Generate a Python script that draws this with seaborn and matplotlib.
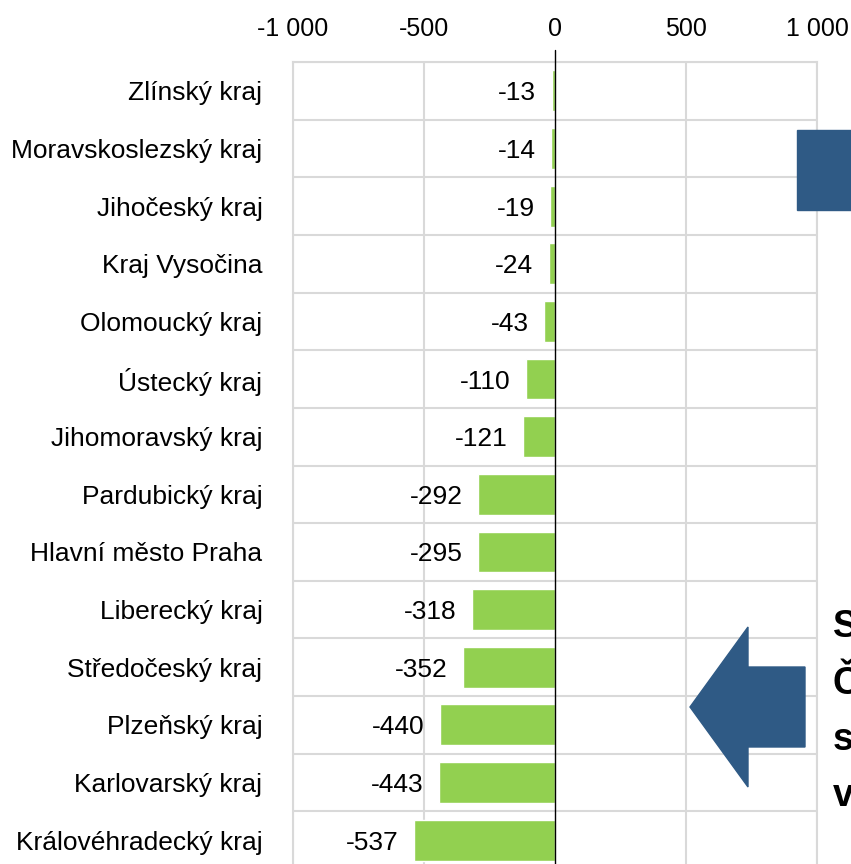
import numpy as np
import pandas as pd
import matplotlib
matplotlib.use("Agg")
import matplotlib.pyplot as plt
from matplotlib.ticker import FixedLocator, FuncFormatter
from matplotlib.patches import Polygon, Rectangle
import seaborn as sns

# data
regions = ["Zlínský kraj", "Moravskoslezský kraj", "Jihočeský kraj", "Kraj Vysočina",
           "Olomoucký kraj", "Ústecký kraj", "Jihomoravský kraj", "Pardubický kraj",
           "Hlavní město Praha", "Liberecký kraj", "Středočeský kraj", "Plzeňský kraj",
           "Karlovarský kraj", "Královéhradecký kraj"]
values = [-13, -14, -19, -24, -43, -110, -121, -292, -295, -318, -352, -440, -443, -537]
x_ticks = [-1000, -500, 0, 500, 1000]

bar_color = "#92D050"
grid_color = "#D9D9D9"
shape_color = "#2F5A85"

sns.set_theme(style="white")
plt.rcParams["font.family"] = ["Liberation Sans", "DejaVu Sans"]

df = pd.DataFrame({"region": regions, "value": values})

W, H = 851, 864
fig = plt.figure(figsize=(W / 100, H / 100), dpi=100)
ax = fig.add_axes([293 / W, (H - 869) / H, (817 - 293) / W, (869 - 62) / H])

sns.barplot(data=df, x="value", y="region", orient="h", color=bar_color,
            width=0.71, saturation=1, ax=ax, zorder=2)

ax.set_xlim(-1000, 1000)
ax.set_ylim(len(regions) - 0.5, -0.5)
ax.xaxis.set_major_locator(FixedLocator(x_ticks))
ax.xaxis.set_major_formatter(FuncFormatter(lambda v, p: f"{int(v):,}".replace(",", " ")))
ax.xaxis.tick_top()
ax.tick_params(axis="x", length=0, pad=15, labelsize=18, colors="black")
ax.tick_params(axis="y", length=0, pad=22, labelsize=19, colors="black")
for lbl in ax.get_yticklabels():
    lbl.set_va("center_baseline")
ax.set_xlabel("")
ax.set_ylabel("")

# grid: vertical at the x ticks, horizontal between categories
for v in x_ticks:
    if v != 0:
        ax.axvline(v, color=grid_color, lw=1.5, zorder=0)
ax.set_yticks(np.arange(-0.5, len(regions), 1.0), minor=True)
ax.tick_params(axis="y", which="minor", length=0)
ax.grid(axis="y", which="minor", color=grid_color, lw=1.5, zorder=0)
ax.grid(axis="y", which="major", visible=False)
for s in ["left", "right", "top"]:
    ax.spines[s].set_color(grid_color)
    ax.spines[s].set_linewidth(1.5)
ax.spines["bottom"].set_visible(False)

# zero axis line with small tick above
ax.plot([0, 0], [len(regions) - 0.5, -0.5 - 0.2], color="black", lw=1.0,
        clip_on=False, zorder=3)

# value labels
for i, v in enumerate(values):
    ax.annotate(f"{v}", xy=(v, i), xytext=(-11, 0), textcoords="offset points",
                ha="right", va="center_baseline", fontsize=19, color="black")

# slide decorations on the right (cut off by the image edge, as in the source)
fig.patches.append(Rectangle((797 / W, 1 - 210 / H), (W - 797) / W, 80 / H,
                             transform=fig.transFigure, color=shape_color, zorder=5))
arrow_px = [(690, 707), (748, 627), (748, 667), (805, 667), (805, 747), (748, 747), (748, 787)]
fig.patches.append(Polygon([(x / W, 1 - y / H) for x, y in arrow_px], closed=True,
                           transform=fig.transFigure, color=shape_color, zorder=5))
for txt, y in zip(["S", "Č", "s", "v"], [627, 684, 740, 796]):
    fig.text(833 / W, 1 - y / H, txt, fontsize=27, fontweight="bold",
             ha="left", va="center", color="black")

fig.savefig("out.png", dpi=100)
